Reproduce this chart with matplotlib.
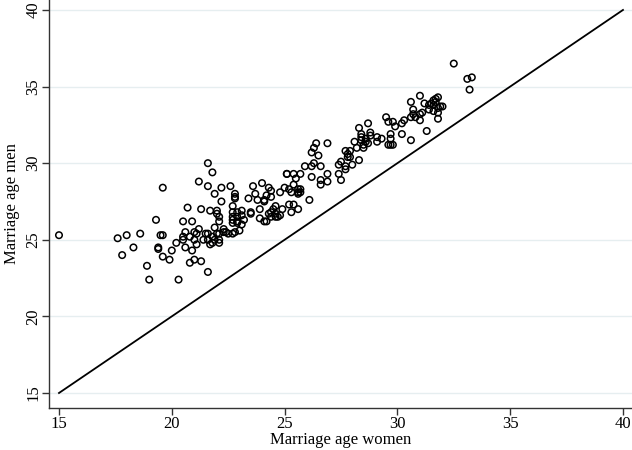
import matplotlib
matplotlib.use("Agg")
import matplotlib.pyplot as plt

# marriage age women (x) / men (y)
women = [
    15.0, 17.6, 18.0, 18.6, 18.3, 17.8, 18.9, 19.0,
    19.6, 19.3, 19.5, 19.6, 19.4, 19.4, 19.6, 19.9, 20.0, 20.2, 20.3,
    20.5, 20.9, 20.7, 20.6, 20.5, 20.5, 20.8, 20.6, 20.9, 20.8, 21.0,
    21.2, 21.1, 21.0, 21.1, 21.2, 21.3, 21.3, 21.4, 21.5, 21.0,
    21.6, 21.8, 21.6, 21.6, 21.6, 21.6, 21.7, 21.7, 21.8, 21.8,
    21.9, 21.9, 21.9, 22.0, 22.0, 22.0, 22.1, 22.1, 22.1, 22.1, 22.1,
    22.2, 22.2, 22.3,
    22.6, 22.8, 22.8, 22.8, 22.7, 22.7, 22.7, 22.7, 22.7, 22.9, 22.9, 22.9, 22.9,
    23.1, 23.1, 23.2, 23.1,
    22.3, 22.4, 22.5, 22.7, 22.8, 23.0,
    23.6, 24.0, 23.7, 23.8, 23.4, 24.1, 24.1, 24.3, 24.4, 24.2, 24.4, 24.6,
    23.5, 23.5, 23.9, 23.9, 24.1, 24.2, 24.3, 24.4, 24.5, 24.6, 24.7, 24.6, 24.4,
    24.8, 24.9, 24.8,
    25.1, 25.1, 25.4, 25.7, 25.5, 25.4, 25.0, 25.2, 25.3, 25.6, 25.6, 25.7, 25.7,
    25.6, 25.2, 25.4, 25.6, 25.3, 26.1,
    26.4, 26.3, 26.9, 26.2, 26.5, 26.3, 25.9, 26.2, 26.6, 26.9, 26.2, 26.6, 26.6, 26.9,
    27.4, 27.5, 27.7, 27.7, 27.4, 27.5, 28.0, 28.3, 27.7, 27.9, 27.8, 27.8, 27.9,
    28.1, 28.2, 28.5, 28.5, 28.4, 28.4, 28.4, 28.3, 28.7, 28.8, 28.8, 28.6, 28.6,
    28.7, 29.1, 29.1,
    29.3, 29.7, 29.7, 29.6, 29.7, 29.8, 29.5, 29.6, 29.8, 29.9, 30.3, 30.2, 30.2,
    31.0, 30.6, 31.2, 31.4, 31.5, 31.6, 31.7, 31.8, 31.7, 31.6, 31.4, 31.6, 31.8,
    32.0, 31.9, 31.8, 31.8,
    30.7, 30.7, 30.8, 30.6, 31.0, 31.0, 31.1, 31.3, 30.6,
    32.5, 33.1, 33.3, 33.2,
]
men = [
    25.3, 25.1, 25.3, 25.4, 24.5, 24.0, 23.3, 22.4,
    28.4, 26.3, 25.3, 25.3, 24.5, 24.4, 23.9, 23.7, 24.3, 24.8, 22.4,
    26.2, 26.2, 27.1, 25.5, 25.2, 25.0, 25.2, 24.5, 24.3, 23.5, 23.7,
    28.8, 24.7, 25.5, 25.4, 25.7, 27.0, 23.6, 25.0, 25.4, 25.0,
    30.0, 29.4, 28.5, 25.4, 25.0, 22.9, 26.9, 24.7, 25.2, 24.8,
    28.0, 25.8, 25.0, 25.4, 26.9, 26.7, 26.5, 26.2, 25.0, 24.8, 25.4,
    28.4, 27.5, 25.5,
    28.5, 28.0, 27.8, 27.7, 27.2, 26.8, 26.5, 26.3, 26.1, 26.8, 26.5, 26.2, 26.1,
    26.9, 26.6, 26.3, 26.0,
    25.7, 25.5, 25.4, 25.4, 25.5, 25.6,
    28.5, 28.7, 28.0, 27.6, 27.7, 27.6, 27.5, 28.4, 28.2, 27.9, 27.8, 27.2,
    26.8, 26.7, 27.0, 26.4, 26.2, 26.2, 26.7, 26.8, 27.0, 26.7, 26.5, 26.5, 26.5,
    28.1, 27.0, 26.6,
    29.3, 29.3, 29.3, 29.3, 29.0, 28.6, 28.4, 28.3, 28.1, 28.3, 28.1, 28.3, 28.1,
    28.0, 27.3, 27.3, 27.0, 26.8, 27.6,
    31.3, 31.0, 31.3, 30.7, 30.5, 30.0, 29.8, 29.8, 29.8, 29.3, 29.1, 28.9, 28.6, 28.8,
    29.9, 30.1, 29.8, 29.6, 29.3, 28.9, 29.9, 30.2, 30.8, 30.8, 30.6, 30.4, 30.4,
    31.4, 31.0, 31.2, 31.0, 31.5, 31.7, 31.9, 32.3, 32.6, 32.0, 31.8, 31.6, 31.4,
    31.3, 31.7, 31.4,
    31.6, 31.9, 31.6, 31.2, 31.2, 31.2, 33.0, 32.7, 32.7, 32.4, 32.8, 32.6, 31.9,
    34.4, 34.0, 33.9, 33.8, 33.9, 34.1, 34.2, 34.3, 34.0, 33.8, 33.5, 33.4, 33.6,
    33.7, 33.7, 33.3, 32.9,
    33.5, 33.2, 33.0, 33.0, 33.2, 32.8, 33.3, 32.1, 31.5,
    36.5, 35.5, 35.6, 34.8,
]
ticks = [15, 20, 25, 30, 35, 40]

plt.rcParams['font.family'] = ['Liberation Serif', 'DejaVu Serif']

fig = plt.figure(figsize=(6.32, 4.5), dpi=100)
ax = fig.add_axes([49 / 632, 42 / 450, 583 / 632, 408 / 450])

ax.scatter(women, men, s=22, facecolors='none', edgecolors='black',
           linewidths=1.1, zorder=3)
ax.plot([15, 40], [15, 40], color='black', lw=1.3, zorder=2)

ax.set_xlim(14.557, 40.40)
ax.set_ylim(14.02, 40.65)
ax.set_xticks(ticks)
ax.set_yticks(ticks)
ax.grid(axis='y', color='#e6eef0', lw=1.0, zorder=0)
ax.set_axisbelow(True)

for side in ['top', 'right']:
    ax.spines[side].set_visible(False)
for side in ['left', 'bottom']:
    ax.spines[side].set_color('#333333')
    ax.spines[side].set_linewidth(1.0)

ax.tick_params(axis='both', length=5, width=1.0, color='#333333',
               labelsize=12, pad=0.5)
for lab in ax.get_yticklabels():
    lab.set_rotation(90)
    lab.set_va('center')

ax.set_xlabel('Marriage age women', fontsize=12, labelpad=0.5)
ax.set_ylabel('Marriage age men', fontsize=12, labelpad=4)

fig.savefig('out.png', dpi=100)
